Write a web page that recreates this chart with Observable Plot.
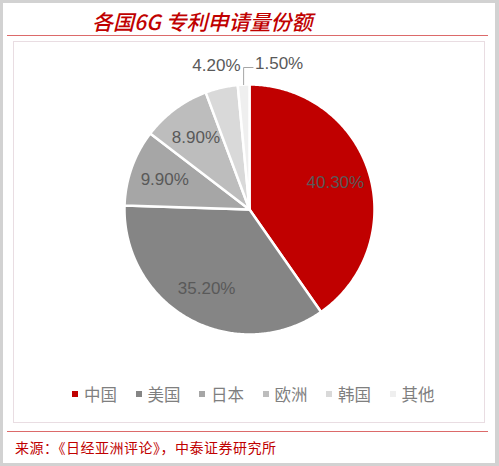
<!DOCTYPE html>
<html>
<head>
<meta charset="utf-8">
<script src="https://cdn.jsdelivr.net/npm/d3@7"></script>
<script src="https://cdn.jsdelivr.net/npm/@observablehq/plot@0.6"></script>
<style>
html, body { margin: 0; padding: 0; background: #fff; }
#page { position: relative; width: 499px; height: 466px; background: #fff; overflow: hidden; font-family: "Noto Sans CJK SC", sans-serif; }
#outer { position: absolute; left: 0; top: 0; width: 499px; height: 466px; box-sizing: border-box; border-style: solid; border-color: #d2d2d2; border-width: 3px 4px 3px 3px; pointer-events: none; }
#title { position: absolute; left: 92px; top: 8px; font-size: 21px; line-height: 26px; color: #c00000; font-style: italic; font-weight: 500; white-space: nowrap; letter-spacing: 0px; }
.redline { position: absolute; left: 7px; width: 481px; height: 1px; background: #dc6a6a; }
#box { position: absolute; left: 13px; top: 41px; width: 472px; height: 382px; box-sizing: border-box; border: 1px solid #e9dde2; }
#chart { position: absolute; left: 13px; top: 41px; }
#legend { position: absolute; left: 72px; top: 383px; display: flex; align-items: center; height: 22px; }
.item { display: flex; align-items: center; margin-right: 18.5px; }
.sw { width: 6px; height: 6px; margin-right: 6px; }
.lab { font-size: 16.5px; color: #7f7f7f; line-height: 22px; white-space: nowrap; }
#source { position: absolute; left: 15px; top: 438px; font-size: 14px; line-height: 18px; color: #c00000; white-space: nowrap; letter-spacing: 0.5px; }
</style>
</head>
<body>
<div id="page">
  <div id="title"></div>
  <div class="redline" style="top:35px"></div>
  <div id="box"></div>
  <div id="chart"></div>
  <div id="legend"></div>
  <div class="redline" style="top:431px"></div>
  <div id="source"></div>
  <div id="outer"></div>
</div>
<script>
// ---- data ----
const titleText = "各国6G 专利申请量份额";
const sourceText = "来源：《日经亚洲评论》，中泰证券研究所";
const categories = ["中国", "美国", "日本", "欧洲", "韩国", "其他"];
const shares = [40.3, 35.2, 9.9, 8.9, 4.2, 1.5];
const valueLabels = ["40.30%", "35.20%", "9.90%", "8.90%", "4.20%", "1.50%"];

// ---- styles ----
const colors = ["#c00000", "#858585", "#a6a6a6", "#bdbdbd", "#d9d9d9", "#efefef"];

document.getElementById("title").textContent = titleText;
document.getElementById("source").textContent = sourceText;

// pie geometry (unit circle, y down, 0 at 12 o'clock, clockwise)
const arcs = d3.pie().sort(null).value(d => d)(shares);
const slices = arcs.map((p, i) => {
  const n = Math.max(4, Math.ceil((p.endAngle - p.startAngle) / 0.01));
  const ring = [[0, 0]];
  for (let k = 0; k <= n; k++) {
    const a = p.startAngle + (p.endAngle - p.startAngle) * k / n;
    ring.push([Math.sin(a), -Math.cos(a)]);
  }
  ring.push([0, 0]);
  return {type: "Feature", properties: {name: categories[i]}, geometry: {type: "Polygon", coordinates: [ring]}};
});

const labelData = arcs.map((p, i) => {
  const mid = (p.startAngle + p.endAngle) / 2;
  const kind = shares[i] >= 5 ? "in" : shares[i] >= 2 ? "out" : "leader";
  const r = kind === "in" ? 0.72 : 1.18;
  return {name: categories[i], label: valueLabels[i], kind, mid,
          x: r * Math.sin(mid), y: -r * Math.cos(mid)};
});
const leaderPts = [];
const leaderLabels = [];
for (const d of labelData.filter(d => d.kind === "leader")) {
  const x0 = Math.sin(d.mid), y0 = -Math.cos(d.mid);
  const yTop = -1.136;
  leaderPts.push({x: x0, y: y0}, {x: x0, y: yTop}, {x: 0.028, y: yTop});
  leaderLabels.push({label: d.label, x: 0.044, y: -1.168});
}

const W = 472, H = 336, K = 125;
const chart = Plot.plot({
  width: W,
  height: H,
  margin: 0,
  style: {fontFamily: "'Liberation Sans', Arial, sans-serif", background: "transparent"},
  projection: {
    type: "identity",
    domain: {type: "MultiPoint", coordinates: [[-W / 2 / K, -H / 2 / K], [W / 2 / K, H / 2 / K]]}
  },
  color: {domain: categories, range: colors},
  marks: [
    Plot.geo(slices, {fill: d => d.properties.name, stroke: "white", strokeWidth: 2.5, strokeLinejoin: "round"}),
    Plot.text(labelData.filter(d => d.kind !== "leader"), {x: "x", y: "y", text: "label", fontSize: 17, fill: "#595959"}),
    Plot.line(leaderPts, {x: "x", y: "y", stroke: "#a6a6a6", strokeWidth: 1}),
    Plot.text(leaderLabels, {x: "x", y: "y", text: "label", fontSize: 17, fill: "#595959", textAnchor: "start"})
  ]
});
document.getElementById("chart").appendChild(chart);

// legend
const legend = document.getElementById("legend");
categories.forEach((c, i) => {
  const item = document.createElement("div");
  item.className = "item";
  const sw = document.createElement("div");
  sw.className = "sw";
  sw.style.background = colors[i];
  const lab = document.createElement("span");
  lab.className = "lab";
  lab.textContent = c;
  item.appendChild(sw);
  item.appendChild(lab);
  legend.appendChild(item);
});
</script>
</body>
</html>
